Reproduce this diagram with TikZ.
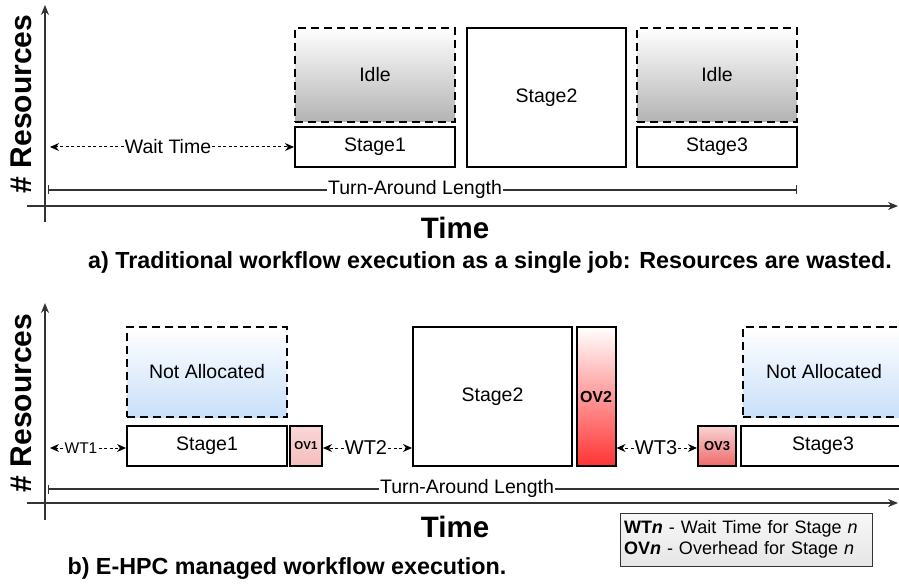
\documentclass[tikz,border=0pt]{standalone}
\usepackage{fontspec}
\setmainfont{Liberation Sans}
\usetikzlibrary{arrows.meta,shadings}
\definecolor{axisgray}{HTML}{333333}
\definecolor{idlebot}{HTML}{B3B3B3}
\definecolor{nabot}{HTML}{C9DFFA}
\definecolor{ovred}{HTML}{FF3333}
\definecolor{ovpink}{HTML}{F4B6B6}
\definecolor{ovmid}{HTML}{EE6A6A}
\definecolor{legtop}{HTML}{F7F7F7}
\definecolor{legbot}{HTML}{E6E6E6}
\tikzset{
  box/.style={draw=black, line width=2pt, inner sep=0pt, align=center, font=\fontsize{19.5}{21}\selectfont},
  stagebox/.style={box, fill=white},
  idlebox/.style={box, dashed, dash pattern=on 8pt off 5pt, top color=white, bottom color=idlebot},
  nabox/.style={box, dashed, dash pattern=on 8pt off 5pt, top color=white, bottom color=nabot},
  axis/.style={draw=axisgray, line width=1.3pt, -{Stealth[length=10pt,width=8pt]}},
  ylab/.style={rotate=90, font=\fontsize{30}{31}\selectfont\bfseries},
  tlab/.style={font=\fontsize{29.5}{31}\selectfont\bfseries},
  captext/.style={font=\fontsize{23.3}{25}\selectfont\bfseries},
  tal/.style={draw=axisgray, line width=1.1pt},
  talab/.style={fill=white, inner sep=1pt, font=\fontsize{19.5}{21}\selectfont},
  wtarrow/.style={draw=black, line width=1pt, dash pattern=on 3pt off 2.5pt, -{Stealth[length=9pt,width=8pt]}},
  wtlab/.style={fill=white, inner sep=1pt, font=\fontsize{20}{21}\selectfont},
}
\begin{document}
\begin{tikzpicture}[x=1pt,y=-1pt]
\useasboundingbox (0,0) rectangle (899,585);
% ---------------- part a ----------------
\coordinate (ya0) at (45,222); \coordinate (ya1) at (45,5);
\coordinate (xa0) at (27,206); \coordinate (xa1) at (898,206);
\draw[axis] (ya0) -- (ya1);
\draw[axis] (xa0) -- (xa1);
\node[ylab] (rla) at (21,104) {\# Resources};
\node[idlebox, minimum width=160pt, minimum height=94pt] (ida1) at (375,75) {Idle};
\node[stagebox, minimum width=160pt, minimum height=40pt] (s1a) at (375,147) {Stage1};
\node[stagebox, minimum width=159pt, minimum height=139pt] (s2a) at (546.5,97.5) {Stage2};
\node[idlebox, minimum width=160pt, minimum height=94pt] (ida2) at (717,75) {Idle};
\node[stagebox, minimum width=160pt, minimum height=40pt] (s3a) at (717,147) {Stage3};
\coordinate (wa0) at (50,147);
\node[wtlab, font=\fontsize{19.5}{21}\selectfont] (wla) at (168,147) {Wait Time};
\draw[wtarrow] (wla) -- (wa0);
\draw[wtarrow] (wla) -- (s1a.west);
\coordinate (taa0) at (48,190); \coordinate (taa1) at (797,190);
\draw[tal, {Bar[width=9pt]}-{Bar[width=9pt]}] (taa0) -- (taa1);
\node[talab] (tla) at (415,189) {Turn-Around Length};
\node[tlab] (tima) at (455,228) {Time};
\node[captext] (capa) at (490,263) {a) Traditional workflow execution as a single job: Resources are wasted.};
% ---------------- part b ----------------
\coordinate (yb0) at (45,520); \coordinate (yb1) at (45,303);
\coordinate (xb0) at (27,503); \coordinate (xb1) at (898,503);
\draw[axis] (yb0) -- (yb1);
\draw[axis] (xb0) -- (xb1);
\node[ylab] (rlb) at (21,403) {\# Resources};
\node[nabox, minimum width=160pt, minimum height=90pt] (na1) at (207,372) {Not Allocated};
\node[stagebox, minimum width=160pt, minimum height=40pt] (s1b) at (207,446) {Stage1};
\node[box, top color=ovpink!55, bottom color=ovpink!90, minimum width=32pt, minimum height=40pt, font=\fontsize{11.5}{12}\selectfont\bfseries] (ov1) at (306,446) {OV1};
\node[stagebox, minimum width=159pt, minimum height=139pt] (s2b) at (492.5,396.5) {Stage2};
\node[box, top color=white, bottom color=ovred, minimum width=39pt, minimum height=139pt, font=\fontsize{16}{17}\selectfont\bfseries] (ov2) at (596,396.5) {OV2};
\node[box, top color=ovpink!60, bottom color=ovmid, minimum width=38pt, minimum height=40pt, font=\fontsize{13}{14}\selectfont\bfseries] (ov3) at (717,446) {OV3};
\node[stagebox, minimum width=164pt, minimum height=40pt] (s3b) at (823,446) {Stage3};
\node[nabox, minimum width=162pt, minimum height=90pt] (na2) at (824,372) {Not Allocated};
% wait times
\coordinate (wb0) at (50,448);
\node[wtlab, font=\fontsize{15.5}{16}\selectfont] (wt1) at (81,448) {WT1};
\draw[wtarrow] (wt1) -- (wb0);
\draw[wtarrow] (wt1) -- (wt1 -| s1b.west);
\node[wtlab] (wt2) at (366,448) {WT2};
\draw[wtarrow] (wt2) -- (wt2 -| ov1.east);
\draw[wtarrow] (wt2) -- (wt2 -| s2b.west);
\node[wtlab] (wt3) at (656,448) {WT3};
\draw[wtarrow] (wt3) -- (wt3 -| ov2.east);
\draw[wtarrow] (wt3) -- (wt3 -| ov3.west);
\coordinate (tab0) at (48,489); \coordinate (tab1) at (905,489);
\draw[tal, {Bar[width=9pt]}-] (tab0) -- (tab1);
\node[talab] (tlb) at (467,488) {Turn-Around Length};
\node[tlab] (timb) at (455,527) {Time};
\node[draw=axisgray, line width=1pt, top color=legtop, bottom color=legbot, minimum height=53pt, text width=244pt, inner xsep=4pt, inner ysep=2pt, align=left, font=\fontsize{18}{21}\selectfont] (leg) at (746,539.5)
  {\textbf{WT\textit{n}} - Wait Time for Stage \textit{n}\\ \textbf{OV\textit{n}} - Overhead for Stage \textit{n}};
\node[captext, anchor=west] (capb) at (64,569) {b) E-HPC managed workflow execution.};
\end{tikzpicture}
\end{document}
